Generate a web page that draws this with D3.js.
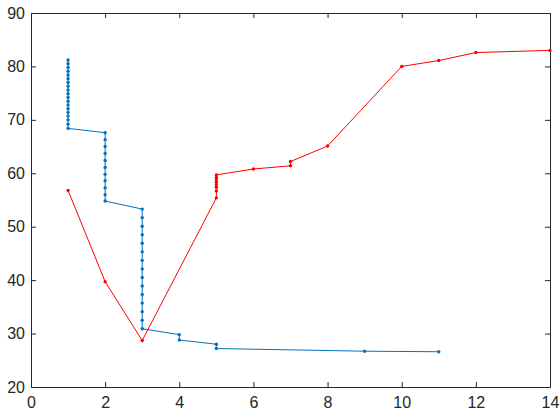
<!DOCTYPE html>
<html>
<head>
<meta charset="utf-8">
<script src="https://cdn.jsdelivr.net/npm/d3@7"></script>
<style>
  body { margin: 0; background: #fff; }
  .axis text { font-family: "Liberation Sans", Arial, sans-serif; font-size: 16px; fill: #262626; }
  .axis path, .axis line { stroke: #262626; }
</style>
</head>
<body>
<svg id="chart" width="560" height="420"></svg>
<script>
// x / y values
const blueX = [1,1,1,1,1,1,1,1,1,1,1,1,1,1,1,1,1,1,1,
               2,2,2,2,2,2,2,2,2,2,2,
               3,3,3,3,3,3,3,3,3,3,3,3,3,3,3,
               4,4,5,5,9,11];
const blueY = [81.2,80.5,79.8,79.1,78.4,77.7,77.0,76.3,75.6,74.9,74.2,73.5,72.8,72.1,71.4,70.7,70.0,69.2,68.4,
               67.6,66.3,65.0,63.7,62.4,61.1,59.8,58.6,57.3,56.0,54.8,
               53.3,51.7,50.1,48.5,46.9,45.3,43.7,42.1,40.5,38.9,37.3,35.7,34.1,32.5,30.9,
               29.8,28.8,28.0,27.2,26.7,26.6];

const redX = [1,2,3,5,5,5,5,5,5,5,5,6,7,7,8,10,11,12,14];
const redY = [56.8,39.7,28.7,55.4,56.7,57.4,57.8,58.3,58.8,59.2,59.7,60.8,61.4,62.2,65.1,80.0,81.1,82.6,83.0];

const xTicks = [0,2,4,6,8,10,12,14];
const yTicks = [20,30,40,50,60,70,80,90];

const MARGINS = {top: 13, right: 10, bottom: 33, left: 31};

let svg = d3.select("#chart");
let w = 560 - MARGINS.left - MARGINS.right,
    h = 420 - MARGINS.top - MARGINS.bottom;
let g = svg.append("g")
    .attr("transform", `translate(${MARGINS.left},${MARGINS.top})`);

let xScale = d3.scaleLinear().domain([0, 14]).range([0, w]);
let yScale = d3.scaleLinear().domain([20, 90]).range([h, 0]);

// box axes, ticks pointing inward (matlab style)
let tk = 5;
g.append("g").attr("class", "axis")
    .attr("transform", `translate(0,${h})`)
    .call(d3.axisBottom(xScale).tickValues(xTicks).tickSizeInner(-tk).tickSizeOuter(0).tickPadding(10));
g.append("g").attr("class", "axis")
    .call(d3.axisTop(xScale).tickValues(xTicks).tickSizeInner(-tk).tickSizeOuter(0).tickFormat(""));
g.append("g").attr("class", "axis")
    .call(d3.axisLeft(yScale).tickValues(yTicks).tickSizeInner(-tk).tickSizeOuter(0).tickPadding(6));
g.append("g").attr("class", "axis")
    .attr("transform", `translate(${w},0)`)
    .call(d3.axisRight(yScale).tickValues(yTicks).tickSizeInner(-tk).tickSizeOuter(0).tickFormat(""));

function drawSeries(xs, ys, color){
    let pts = xs.map((x, i) => [x, ys[i]]);
    let line = d3.line()
        .x(d => xScale(d[0]))
        .y(d => yScale(d[1]));
    g.append("path")
        .datum(pts)
        .attr("d", line)
        .attr("fill", "none")
        .attr("stroke", color)
        .attr("stroke-width", 1);
    g.selectAll(null)
        .data(pts)
        .enter().append("circle")
            .attr("cx", d => xScale(d[0]))
            .attr("cy", d => yScale(d[1]))
            .attr("r", 1.7)
            .attr("fill", color);
}

drawSeries(blueX, blueY, "#0072BD");
drawSeries(redX, redY, "#FF0000");
</script>
</body>
</html>
